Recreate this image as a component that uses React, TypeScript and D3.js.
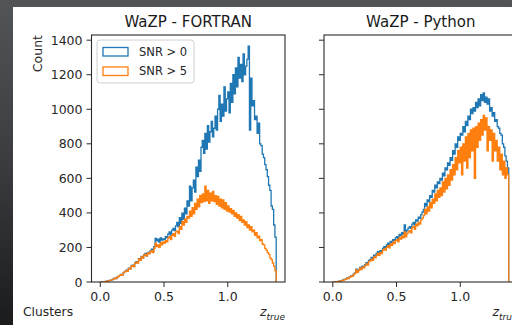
import React from "react";
import * as d3 from "d3";

// Histogram of true redshift for detected clusters, two pipelines, bin width 0.01 from z = 0 to 1.38
const BIN_WIDTH = 0.01;

const fortranSnr0 = [
  0, 0, 1, 2, 3, 5, 6, 9, 11, 14,
  18, 22, 20, 28, 33, 38, 44, 41, 55, 62,
  68, 64, 80, 76, 92, 98, 90, 110, 118, 112,
  135, 128, 148, 140, 158, 165, 152, 172, 168, 180,
  190, 178, 205, 252, 238, 248, 230, 255, 242, 250,
  245, 262, 255, 278, 290, 272, 300, 310, 298, 325,
  345, 320, 372, 340, 398, 362, 428, 395, 470, 440,
  555, 470, 545, 590, 520, 665, 610, 705, 640, 780,
  820, 745, 860, 770, 905, 810, 870, 930, 840, 890,
  960, 880, 1000, 1080, 930, 1030, 960, 1130, 990, 1060,
  1100, 980, 1150, 1040, 1200, 1090, 1240, 1130, 1300, 1180,
  1260, 1160, 1320, 1200, 1250, 1290, 1365, 880, 1180, 1020,
  1050, 940, 960, 860, 920, 800, 790, 740, 720, 680,
  650, 610, 560, 530, 440, 420, 330, 260,
];

const fortranSnr5 = [
  0, 0, 1, 2, 3, 5, 6, 8, 11, 14,
  17, 22, 20, 27, 32, 38, 43, 40, 54, 60,
  66, 63, 79, 74, 90, 96, 88, 108, 115, 110,
  132, 125, 145, 137, 155, 160, 150, 168, 163, 175,
  182, 170, 195, 225, 205, 215, 200, 228, 215, 232,
  225, 240, 232, 255, 262, 245, 270, 280, 265, 290,
  295, 280, 320, 305, 350, 330, 365, 345, 380, 370,
  410, 380, 430, 395, 455, 420, 480, 435, 500, 460,
  510, 465, 555, 470, 530, 455, 515, 470, 525, 465,
  500, 450, 495, 440, 480, 430, 475, 420, 460, 410,
  440, 405, 425, 395, 415, 380, 400, 370, 390, 355,
  380, 345, 360, 330, 350, 315, 330, 300, 320, 290,
  300, 270, 285, 255, 265, 240, 245, 220, 215, 195,
  185, 170, 160, 140, 130, 110, 90, 65,
];

const pythonSnr0 = [
  0, 0, 1, 2, 4, 5, 7, 9, 12, 15,
  18, 24, 22, 30, 36, 34, 45, 52, 75, 60,
  70, 85, 78, 92, 88, 100, 112, 105, 125, 130,
  142, 135, 155, 150, 165, 175, 168, 182, 178, 195,
  205, 198, 215, 225, 212, 235, 228, 245, 240, 255,
  262, 250, 275, 268, 285, 278, 330, 290, 300, 312,
  320, 310, 335, 345, 330, 360, 352, 375, 368, 390,
  405, 420, 455, 440, 475, 465, 500, 490, 530, 520,
  560, 545, 580, 570, 600, 590, 630, 615, 660, 650,
  690, 675, 720, 705, 760, 740, 800, 780, 840, 820,
  860, 850, 900, 870, 930, 905, 960, 940, 1000, 975,
  1010, 990, 1040, 1010, 1060, 1020, 1085, 1050, 1095, 1040,
  1070, 1030, 1060, 990, 1010, 960, 980, 930, 940, 900,
  890, 860, 850, 800, 780, 730, 700, 660,
];

const pythonSnr5 = [
  0, 0, 1, 2, 3, 5, 6, 8, 11, 14,
  17, 22, 20, 28, 34, 32, 42, 50, 70, 56,
  66, 80, 72, 86, 82, 95, 105, 98, 118, 122,
  132, 126, 145, 140, 155, 165, 155, 172, 165, 185,
  192, 185, 200, 210, 198, 220, 212, 230, 222, 240,
  245, 232, 258, 248, 265, 255, 290, 262, 280, 290,
  298, 285, 315, 322, 305, 335, 325, 345, 335, 360,
  370, 385, 420, 395, 435, 410, 460, 430, 480, 455,
  510, 470, 530, 490, 545, 500, 580, 520, 600, 540,
  620, 560, 650, 590, 680, 620, 720, 650, 760, 690,
  780, 620, 800, 700, 840, 660, 860, 720, 880, 760,
  890, 600, 900, 780, 920, 820, 940, 850, 965, 880,
  950, 760, 900, 820, 880, 700, 860, 760, 820, 700,
  780, 650, 740, 620, 700, 600, 660, 620,
];

const seriesLabels = ["SNR > 0", "SNR > 5"];
const seriesColors = ["#1f77b4", "#ff7f0e"];
const panelTitles = ["WaZP - FORTRAN", "WaZP - Python"];
const yTicks = [0, 200, 400, 600, 800, 1000, 1200, 1400];
const xTicks = [0.0, 0.5, 1.0];

const W = 512;
const H = 325;
const FONT = "DejaVu Sans, sans-serif";

const panels = [
  { title: panelTitles[0], left: 91.5, right: 285, series: [fortranSnr0, fortranSnr5], yLabels: true },
  { title: panelTitles[1], left: 324, right: 517.5, series: [pythonSnr0, pythonSnr5], yLabels: false },
];
const TOP = 35;
const BOTTOM = 282;

const yScale = d3.scaleLinear().domain([0, 1430]).range([BOTTOM, TOP]);

function stepPoints(values: number[]): [number, number][] {
  const pts: [number, number][] = [[0, 0]];
  values.forEach((v, i) => {
    pts.push([i * BIN_WIDTH, v]);
    pts.push([(i + 1) * BIN_WIDTH, v]);
  });
  pts.push([values.length * BIN_WIDTH, 0]);
  return pts;
}

function Panel({ p, idx }: { p: (typeof panels)[number]; idx: number }) {
  const xScale = d3.scaleLinear().domain([-0.069, 1.449]).range([p.left, p.right]);
  const line = d3
    .line<[number, number]>()
    .x((d) => xScale(d[0]))
    .y((d) => yScale(d[1]));
  const clipId = `clip-${idx}`;
  return (
    <g>
      <defs>
        <clipPath id={clipId}>
          <rect x={p.left} y={TOP} width={p.right - p.left} height={BOTTOM - TOP} />
        </clipPath>
      </defs>
      <g clipPath={`url(#${clipId})`}>
        {p.series.map((s, i) => (
          <path
            key={i}
            d={line(stepPoints(s)) || ""}
            fill="none"
            stroke={seriesColors[i]}
            strokeWidth={1.3}
            strokeLinejoin="miter"
          />
        ))}
      </g>
      <rect
        x={p.left}
        y={TOP}
        width={p.right - p.left}
        height={BOTTOM - TOP}
        fill="none"
        stroke="#2a2a2a"
        strokeWidth={1.1}
      />
      {yTicks.map((t) => (
        <g key={t}>
          <line x1={p.left - 5} x2={p.left} y1={yScale(t)} y2={yScale(t)} stroke="#2a2a2a" strokeWidth={1} />
          {p.yLabels && (
            <text
              x={p.left - 9}
              y={yScale(t)}
              textAnchor="end"
              dominantBaseline="central"
              fontSize={12.5}
              fontFamily={FONT}
              fill="#262626"
            >
              {t}
            </text>
          )}
        </g>
      ))}
      {xTicks.map((t) => (
        <g key={t}>
          <line x1={xScale(t)} x2={xScale(t)} y1={BOTTOM} y2={BOTTOM + 5} stroke="#2a2a2a" strokeWidth={1} />
          <text
            x={xScale(t)}
            y={301}
            textAnchor="middle"
            fontSize={12.5}
            fontFamily={FONT}
            fill="#262626"
          >
            {t.toFixed(1)}
          </text>
        </g>
      ))}
      <text
        x={(p.left + p.right) / 2}
        y={27}
        textAnchor="middle"
        fontSize={15}
        fontFamily={FONT}
        fill="#1a1a1a"
      >
        {p.title}
      </text>
      <text x={p.right} y={316} textAnchor="end" fontSize={12.5} fontFamily={FONT} fill="#262626">
        <tspan fontStyle="italic">z</tspan>
        <tspan fontStyle="italic" fontSize={9} dy={3.5}>
          true
        </tspan>
      </text>
    </g>
  );
}

export default function App() {
  return (
    <svg
      width={W}
      height={H}
      style={{ position: "fixed", left: 0, top: 0, display: "block" }}
      xmlns="http://www.w3.org/2000/svg"
    >
      <defs>
        <linearGradient id="bg" x1="0" y1="0" x2="0" y2="1">
          <stop offset="0" stopColor="#525558" />
          <stop offset="0.5" stopColor="#3a3c3f" />
          <stop offset="1" stopColor="#1a1b1d" />
        </linearGradient>
      </defs>
      <rect x={0} y={0} width={W} height={H} fill="url(#bg)" />
      <rect x={13} y={7} width={W - 13} height={H - 7} fill="#ffffff" />
      {panels.map((p, i) => (
        <Panel key={i} p={p} idx={i} />
      ))}
      <text
        transform="translate(41.5,35) rotate(-90)"
        textAnchor="end"
        fontSize={12.5}
        fontFamily={FONT}
        fill="#262626"
      >
        Count
      </text>
      <text x={23} y={316} fontSize={12.3} fontFamily={FONT} fill="#262626">
        Clusters
      </text>
      <g>
        <rect x={97} y={40} width={97} height={43} rx={3} fill="#ffffff" fillOpacity={0.8} stroke="#d0d0d0" strokeWidth={1} />
        {seriesLabels.map((lab, i) => (
          <g key={lab}>
            <rect
              x={103}
              y={47.5 + i * 19.5}
              width={25}
              height={8.5}
              fill="none"
              stroke={seriesColors[i]}
              strokeWidth={1.3}
            />
            <text
              x={139}
              y={51.7 + i * 19.5}
              dominantBaseline="central"
              fontSize={11.5}
              fontFamily={FONT}
              fill="#262626"
            >
              {lab}
            </text>
          </g>
        ))}
      </g>
    </svg>
  );
}
